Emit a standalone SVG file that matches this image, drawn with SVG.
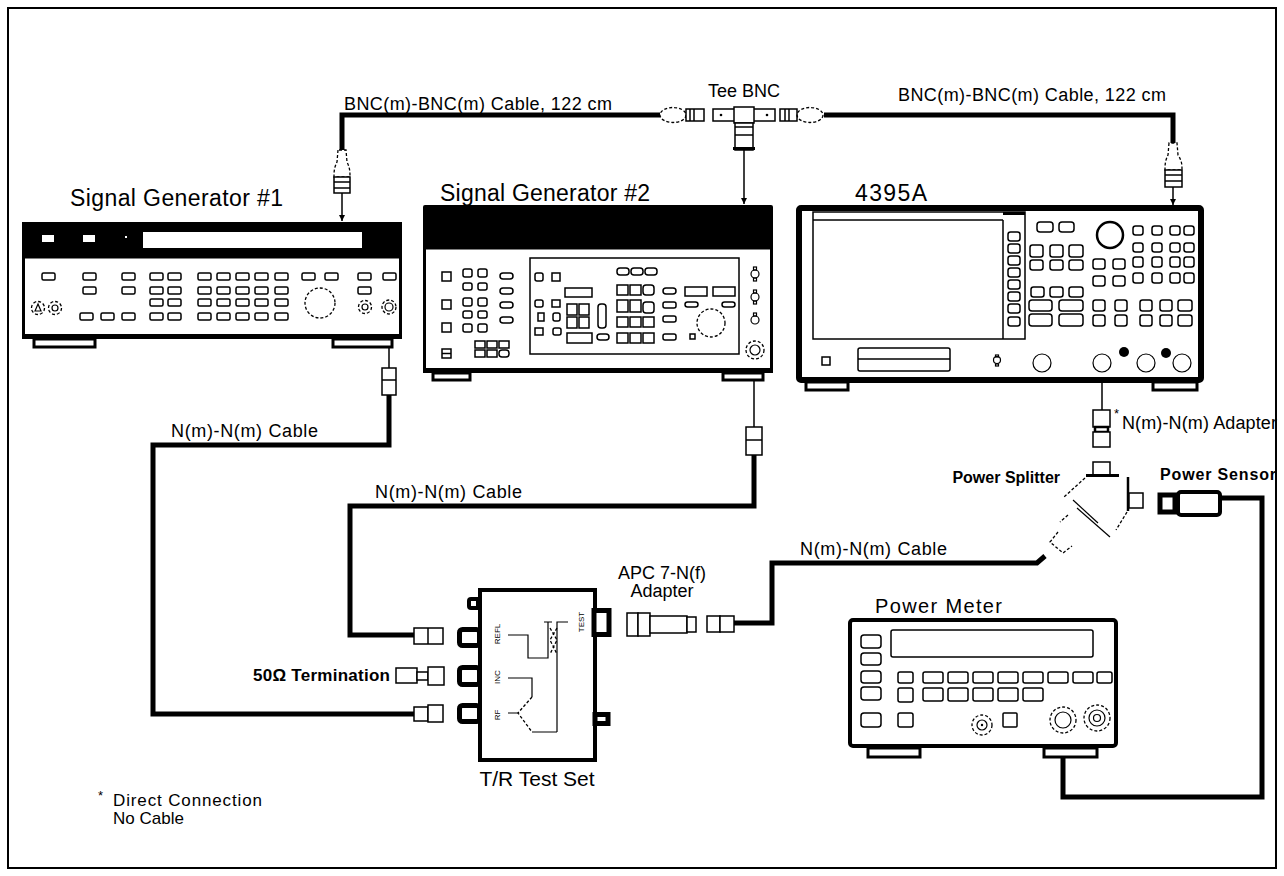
<svg xmlns="http://www.w3.org/2000/svg" width="1284" height="876" viewBox="0 0 1284 876">
<style>
text{font-family:"Liberation Sans",Arial,Helvetica,sans-serif;fill:#000}
.cab{stroke:#000;stroke-width:5;fill:none;stroke-linejoin:miter}
.ln{stroke:#000;stroke-width:1.5;fill:none}
.tl{stroke:#000;stroke-width:1.2;fill:none}
.b{fill:#fff;stroke:#000;stroke-width:1.5}
.d{fill:none;stroke:#000;stroke-width:1.3;stroke-dasharray:3 2}
.blk{fill:#000}
.ft{fill:#fff;stroke:#000;stroke-width:3}
.lbl{font-size:18px}
.big{font-size:23px}
.port{fill:#fff;stroke:#000;stroke-width:5}
</style>
<defs>
<marker id="ah" viewBox="0 0 10 10" refX="10" refY="5" markerUnits="userSpaceOnUse" markerWidth="6" markerHeight="8" orient="auto"><path d="M0,0 L10,5 L0,10 z"/></marker>
</defs>
<rect x="0" y="0" width="1284" height="876" fill="#fff"/>
<rect x="8" y="8" width="1268" height="860" fill="none" stroke="#000" stroke-width="2"/>

<g id="connectors">
<path class="cab" d="M342,150 V115 H660"/>
<path class="cab" d="M824,115 H1173 V143"/>
<path class="cab" d="M389,395 V445 H153 V714 H414"/>
<path class="cab" d="M754,455 V506 H350 V635 H414"/>
<path class="cab" d="M734,623 H772 V563 H1037 L1045,556"/>
<path class="cab" d="M1220,498 H1262 V797 H1063 V722"/>
<line class="ln" x1="342" y1="193" x2="342" y2="221" marker-end="url(#ah)"/>
<line class="ln" x1="744" y1="150" x2="744" y2="204" marker-end="url(#ah)"/>
<line class="ln" x1="1173" y1="187" x2="1173" y2="205" marker-end="url(#ah)"/>
<line class="ln" x1="389" y1="368" x2="389" y2="309" marker-end="url(#ah)"/>
<line class="ln" x1="754" y1="427" x2="754" y2="352" marker-end="url(#ah)"/>
<line class="ln" x1="1102" y1="410" x2="1102" y2="365" marker-end="url(#ah)"/>
</g>

<g id="bnc-cable-left">
<path class="d" d="M338,150 L337,162 C334,168 334,172 334,177 H350 C350,172 350,168 347,162 L346,150 Z"/>
<rect class="b" x="334" y="177" width="16" height="16"/>
<line class="ln" x1="334" y1="182" x2="350" y2="182"/>
<line class="ln" x1="334" y1="188" x2="350" y2="188"/>
<text class="lbl" x="344" y="110" textLength="268">BNC(m)-BNC(m) Cable, 122 cm</text>
<ellipse class="d" cx="673" cy="115" rx="13" ry="7.5"/>
<rect class="b" x="686" y="109" width="18" height="12"/>
<line class="ln" x1="690" y1="109" x2="690" y2="121"/>
<line class="ln" x1="694" y1="109" x2="694" y2="121"/>
</g>

<g id="tee-bnc">
<text class="lbl" x="744" y="97" text-anchor="middle">Tee BNC</text>
<rect class="b" x="713" y="109" width="62" height="12"/>
<rect class="b" x="734" y="107" width="20" height="16"/>
<circle cx="721" cy="115" r="1.3"/>
<circle cx="767" cy="115" r="1.3"/>
<rect class="b" x="735" y="123" width="18" height="27"/>
<line class="ln" x1="735" y1="127" x2="753" y2="127"/>
<line class="ln" x1="735" y1="135" x2="753" y2="135"/>
<rect class="blk" x="733" y="147" width="22" height="3"/>
</g>

<g id="bnc-cable-right">
<rect class="b" x="780" y="109" width="17" height="12"/>
<line class="ln" x1="785" y1="109" x2="785" y2="121"/>
<line class="ln" x1="789" y1="109" x2="789" y2="121"/>
<ellipse class="d" cx="810" cy="115" rx="13" ry="7.5"/>
<text class="lbl" x="898" y="101" textLength="268">BNC(m)-BNC(m) Cable, 122 cm</text>
<path class="d" d="M1169,143 L1168,155 C1165,161 1165,165 1165,170 H1182 C1182,165 1182,161 1178,155 L1177,143 Z"/>
<rect class="b" x="1165" y="170" width="17" height="17"/>
<line class="ln" x1="1165" y1="175" x2="1182" y2="175"/>
<line class="ln" x1="1165" y1="181" x2="1182" y2="181"/>
</g>

<g id="sig-gen-1">
<text class="big" x="70" y="206" textLength="213">Signal Generator #1</text>
<rect x="22" y="222" width="380" height="36" class="blk"/>
<rect x="42" y="235" width="12" height="7" fill="#fff"/>
<rect x="83" y="235" width="12" height="7" fill="#fff"/>
<rect x="125" y="236" width="2" height="2" fill="#fff"/>
<rect x="143" y="232" width="219" height="16" fill="#fff"/>
<rect x="23.5" y="257" width="377" height="80" fill="#fff" stroke="#000" stroke-width="3"/>
<rect x="22" y="334" width="380" height="5" class="blk"/>
<rect class="ft" x="34" y="339" width="61" height="8" stroke-width="2"/>
<rect class="ft" x="333" y="339" width="59" height="8"/>
<g class="b">
<rect x="42" y="273" width="13" height="7" rx="1.5"/><rect x="83" y="273" width="13" height="7" rx="1.5"/><rect x="122" y="273" width="13" height="7" rx="1.5"/><rect x="150" y="273" width="13" height="7" rx="1.5"/><rect x="168" y="273" width="13" height="7" rx="1.5"/><rect x="198" y="273" width="13" height="7" rx="1.5"/><rect x="217" y="273" width="13" height="7" rx="1.5"/><rect x="236" y="273" width="13" height="7" rx="1.5"/><rect x="255" y="273" width="13" height="7" rx="1.5"/><rect x="275" y="273" width="13" height="7" rx="1.5"/><rect x="302" y="273" width="13" height="7" rx="1.5"/><rect x="325" y="273" width="13" height="7" rx="1.5"/><rect x="358" y="273" width="13" height="7" rx="1.5"/><rect x="383" y="273" width="13" height="7" rx="1.5"/>
<rect x="83" y="287" width="13" height="7" rx="1.5"/><rect x="122" y="287" width="13" height="7" rx="1.5"/><rect x="150" y="287" width="13" height="7" rx="1.5"/><rect x="168" y="287" width="13" height="7" rx="1.5"/><rect x="198" y="287" width="13" height="7" rx="1.5"/><rect x="217" y="287" width="13" height="7" rx="1.5"/><rect x="236" y="287" width="13" height="7" rx="1.5"/><rect x="255" y="287" width="13" height="7" rx="1.5"/><rect x="275" y="287" width="13" height="7" rx="1.5"/><rect x="358" y="287" width="13" height="7" rx="1.5"/>
<rect x="150" y="299" width="13" height="7" rx="1.5"/><rect x="168" y="299" width="13" height="7" rx="1.5"/><rect x="198" y="299" width="13" height="7" rx="1.5"/><rect x="217" y="299" width="13" height="7" rx="1.5"/><rect x="236" y="299" width="13" height="7" rx="1.5"/><rect x="255" y="299" width="13" height="7" rx="1.5"/><rect x="275" y="299" width="13" height="7" rx="1.5"/>
<rect x="80" y="313" width="13" height="7" rx="1.5"/><rect x="101" y="313" width="13" height="7" rx="1.5"/><rect x="122" y="313" width="13" height="7" rx="1.5"/><rect x="150" y="313" width="13" height="7" rx="1.5"/><rect x="168" y="313" width="13" height="7" rx="1.5"/><rect x="198" y="313" width="13" height="7" rx="1.5"/><rect x="217" y="313" width="13" height="7" rx="1.5"/><rect x="236" y="313" width="13" height="7" rx="1.5"/><rect x="255" y="313" width="13" height="7" rx="1.5"/><rect x="275" y="313" width="13" height="7" rx="1.5"/>
</g>
<circle class="d" cx="320" cy="303" r="15"/>
<circle class="d" cx="38" cy="308" r="6.5"/><path class="tl" d="M35,311 L38,304 L41,311 Z"/>
<circle class="d" cx="55" cy="308" r="6.5"/><circle class="tl" cx="55" cy="308" r="3"/>
<circle class="d" cx="365" cy="307" r="6.5"/><circle class="tl" cx="365" cy="307" r="3"/>
<circle class="d" cx="389" cy="307" r="7"/><circle class="tl" cx="389" cy="307" r="4"/>
</g>

<g id="sig-gen-2">
<text class="big" x="440" y="201" textLength="210">Signal Generator #2</text>
<rect x="423" y="205" width="350" height="44" rx="2" class="blk"/>
<rect x="424.5" y="248" width="347" height="123" fill="#fff" stroke="#000" stroke-width="3"/>
<rect x="423" y="368" width="350" height="5" class="blk"/>
<rect class="ft" x="433" y="373" width="37" height="7"/>
<rect class="ft" x="723" y="373" width="40" height="7"/>
<g class="b">
<rect x="442" y="272" width="9" height="9"/><rect x="442" y="300" width="9" height="9"/><rect x="442" y="323" width="9" height="9"/><rect x="442" y="349" width="9" height="9"/>
<rect x="463" y="269" width="9" height="8" rx="2"/><rect x="478" y="269" width="9" height="8" rx="2"/>
<rect x="463" y="283" width="9" height="7" rx="2"/><rect x="478" y="283" width="9" height="7" rx="2"/>
<rect x="463" y="298" width="9" height="8" rx="2"/><rect x="478" y="298" width="9" height="8" rx="2"/>
<rect x="463" y="311" width="9" height="7" rx="2"/><rect x="478" y="311" width="9" height="7" rx="2"/>
<rect x="463" y="324" width="9" height="8" rx="2"/><rect x="478" y="324" width="9" height="8" rx="2"/>
<rect x="500" y="273" width="13" height="6" rx="3"/><rect x="500" y="288" width="13" height="6" rx="3"/><rect x="500" y="302" width="13" height="6" rx="3"/><rect x="500" y="317" width="13" height="6" rx="3"/>
<rect x="475" y="341" width="10" height="7"/><rect x="487" y="341" width="10" height="7"/><rect x="499" y="341" width="10" height="7"/>
<rect x="475" y="350" width="10" height="7"/><rect x="487" y="350" width="10" height="7"/><rect x="499" y="350" width="10" height="7" rx="3"/>
<rect x="530" y="258" width="209" height="96"/>
<rect x="535" y="273" width="8" height="8" rx="2"/><rect x="552" y="273" width="8" height="8"/>
<rect x="535" y="300" width="8" height="7" rx="2"/><rect x="552" y="300" width="8" height="7"/>
<rect x="538" y="313" width="6" height="8"/><rect x="553" y="313" width="7" height="8" rx="2"/>
<rect x="535" y="328" width="8" height="7"/><rect x="553" y="328" width="8" height="7" rx="2"/>
<rect x="565" y="288" width="27" height="9"/>
<rect x="567" y="304" width="10" height="11"/><rect x="579" y="304" width="10" height="11"/><rect x="567" y="317" width="10" height="11"/><rect x="579" y="317" width="10" height="11"/>
<rect x="598" y="304" width="8" height="24" rx="3"/>
<rect x="567" y="333" width="25" height="10"/><rect x="597" y="334" width="12" height="6" rx="3"/>
<rect x="617" y="268" width="12" height="7" rx="3"/><rect x="631" y="268" width="12" height="7" rx="3"/><rect x="645" y="268" width="12" height="7" rx="3"/>
<rect x="617" y="285" width="11" height="10"/><rect x="630" y="285" width="11" height="10"/><rect x="643" y="285" width="11" height="10" rx="3"/>
<rect x="617" y="300" width="11" height="12"/><rect x="630" y="300" width="11" height="12"/><rect x="643" y="302" width="11" height="11" rx="3"/>
<rect x="617" y="317" width="11" height="10"/><rect x="630" y="317" width="11" height="10"/><rect x="643" y="317" width="11" height="10"/>
<rect x="617" y="333" width="11" height="10"/><rect x="630" y="333" width="11" height="10"/><rect x="643" y="333" width="11" height="10"/>
<rect x="663" y="288" width="13" height="6" rx="3"/><rect x="663" y="302" width="13" height="6" rx="2"/><rect x="663" y="316" width="13" height="6" rx="2"/><rect x="663" y="334" width="13" height="6" rx="2"/>
<rect x="685" y="287" width="22" height="9"/><rect x="713" y="287" width="22" height="9"/>
<rect x="685" y="302" width="13" height="5" rx="2.5"/><rect x="722" y="302" width="13" height="5" rx="2.5"/>
<rect x="690" y="334" width="5" height="5"/>
</g>
<line class="ln" x1="442" y1="353.5" x2="451" y2="353.5"/>
<circle class="d" cx="711" cy="323" r="14"/>
<g class="tl">
<circle cx="755" cy="274" r="4"/><rect x="753.5" y="267" width="3" height="3"/><rect x="753.5" y="278" width="3" height="3"/>
<circle cx="755" cy="297" r="4"/><rect x="753.5" y="290" width="3" height="3"/><rect x="753.5" y="301" width="3" height="3"/>
<circle cx="755" cy="320" r="4"/><rect x="753.5" y="313" width="3" height="3"/>
</g>
<circle class="d" cx="755" cy="350" r="9"/><circle class="tl" cx="755" cy="350" r="5"/>
</g>

<g id="analyzer-4395A">
<text class="big" x="855" y="201" textLength="72">4395A</text>
<rect x="799" y="208" width="402" height="172" rx="2" fill="#fff" stroke="#000" stroke-width="6"/>
<rect class="ft" x="806" y="382" width="42" height="8"/>
<rect class="ft" x="1153" y="382" width="44" height="8"/>
<rect x="813" y="212" width="212" height="127" fill="#fff" stroke="#000" stroke-width="1.5"/>
<line class="ln" x1="813" y1="220" x2="1003" y2="220"/>
<rect x="1003" y="212" width="22" height="3" class="blk"/>
<line class="ln" x1="1003" y1="220" x2="1003" y2="339"/>
<g class="b">
<rect x="1008" y="232" width="12" height="9" rx="2.5"/><rect x="1008" y="244" width="12" height="9" rx="2.5"/><rect x="1008" y="256" width="12" height="9" rx="2.5"/><rect x="1008" y="268" width="12" height="9" rx="2.5"/><rect x="1008" y="280" width="12" height="9" rx="2.5"/><rect x="1008" y="292" width="12" height="9" rx="2.5"/><rect x="1008" y="304" width="12" height="9" rx="2.5"/><rect x="1008" y="317" width="12" height="9" rx="2.5"/>
<rect x="1037" y="222" width="16" height="10" rx="3"/><rect x="1059" y="222" width="15" height="10" rx="3"/>
<rect x="1030" y="245" width="13" height="12" rx="2.5"/><rect x="1050" y="245" width="13" height="12" rx="2.5"/><rect x="1069" y="245" width="14" height="12" rx="2.5"/>
<rect x="1030" y="260" width="13" height="10" rx="2.5"/><rect x="1050" y="260" width="13" height="10" rx="2.5"/><rect x="1069" y="260" width="14" height="10" rx="2.5"/>
<rect x="1031" y="287" width="13" height="10" rx="2.5"/><rect x="1050" y="287" width="13" height="10" rx="2.5"/><rect x="1069" y="287" width="14" height="10" rx="2.5"/>
<rect x="1029" y="300" width="23" height="11" rx="3"/><rect x="1059" y="300" width="24" height="11" rx="3"/>
<rect x="1029" y="314" width="23" height="12" rx="3"/><rect x="1059" y="314" width="24" height="12" rx="3"/>
<rect x="1133" y="226" width="10" height="9" rx="2.5"/><rect x="1152" y="226" width="10" height="9" rx="2.5"/><rect x="1170" y="226" width="10" height="9" rx="2.5"/><rect x="1184" y="226" width="10" height="9" rx="2.5"/>
<rect x="1133" y="243" width="10" height="9" rx="2.5"/><rect x="1152" y="243" width="10" height="9" rx="2.5"/><rect x="1170" y="243" width="10" height="9" rx="2.5"/><rect x="1184" y="243" width="10" height="9" rx="2.5"/>
<rect x="1133" y="257" width="10" height="10" rx="2.5"/><rect x="1152" y="257" width="10" height="10" rx="2.5"/><rect x="1170" y="257" width="10" height="10" rx="2.5"/><rect x="1184" y="257" width="10" height="10" rx="2.5"/>
<rect x="1133" y="273" width="10" height="10" rx="2.5"/><rect x="1152" y="273" width="10" height="10" rx="2.5"/><rect x="1170" y="273" width="10" height="10" rx="2.5"/><rect x="1184" y="273" width="10" height="10" rx="2.5"/>
<rect x="1093" y="259" width="12" height="10" rx="2.5"/><rect x="1113" y="259" width="12" height="10" rx="2.5"/>
<rect x="1093" y="276" width="12" height="10" rx="2.5"/><rect x="1113" y="276" width="12" height="10" rx="2.5"/>
<rect x="1093" y="300" width="12" height="11" rx="2.5"/><rect x="1115" y="300" width="12" height="11" rx="2.5"/><rect x="1140" y="300" width="12" height="11" rx="2.5"/><rect x="1160" y="300" width="12" height="11" rx="2.5"/><rect x="1178" y="300" width="14" height="11" rx="2.5"/>
<rect x="1093" y="315" width="12" height="11" rx="2.5"/><rect x="1115" y="315" width="12" height="11" rx="2.5"/><rect x="1140" y="315" width="12" height="11" rx="2.5"/><rect x="1160" y="315" width="12" height="11" rx="2.5"/><rect x="1178" y="315" width="14" height="11" rx="2.5"/>
<rect x="822" y="357" width="8" height="8"/>
<rect x="858" y="348" width="92" height="23" rx="2"/>
</g>
<circle cx="1110" cy="235" r="13" fill="none" stroke="#000" stroke-width="2.5"/>
<line class="ln" x1="858" y1="359" x2="950" y2="359"/>
<circle class="tl" cx="997" cy="360" r="3.5"/><rect class="tl" x="995.5" y="355" width="3" height="2"/><rect class="tl" x="995.5" y="364" width="3" height="2"/>
<circle class="tl" cx="1042" cy="363" r="9"/>
<circle class="tl" cx="1102" cy="363" r="9"/>
<circle class="tl" cx="1146" cy="363" r="9"/>
<circle class="tl" cx="1182" cy="363" r="9"/>
<circle class="blk" cx="1124" cy="352" r="5"/>
<circle class="blk" cx="1166" cy="353" r="5"/>
</g>

<g id="adapter-n">
<text x="1114" y="418" font-size="13">*</text>
<rect class="b" x="1093" y="410" width="17" height="17"/>
<rect x="1095" y="427" width="13" height="5" fill="#fff" stroke="#000" stroke-width="2.5"/>
<rect class="b" x="1093" y="432" width="17" height="15"/>
<text class="lbl" x="1122" y="429" textLength="155">N(m)-N(m) Adapter</text>
</g>

<g id="power-splitter">
<text x="1060" y="483" font-size="16" font-weight="bold" text-anchor="end">Power Splitter</text>
<rect class="b" x="1093" y="462" width="17" height="13"/>
<rect x="1086" y="474" width="33" height="3" class="blk"/>
<line x1="1128" y1="477" x2="1128" y2="511" stroke="#000" stroke-width="2.5"/>
<rect class="b" x="1129" y="493" width="14" height="15"/>
<path class="d" d="M1085,478 L1064,497"/>
<path class="d" d="M1127,512 L1116,530"/>
<line class="tl" x1="1073" y1="500" x2="1098" y2="523"/>
<line class="tl" x1="1077" y1="508" x2="1110" y2="537"/>
<path class="d" d="M1068,515 L1060,522"/>
<path class="d" d="M1058,532 L1050,542 L1063,553 L1072,546"/>
</g>

<g id="power-sensor">
<text x="1160" y="480" font-size="16" font-weight="bold" textLength="116">Power Sensor</text>
<rect x="1160" y="495" width="15" height="17" fill="#fff" stroke="#000" stroke-width="5"/>
<rect x="1178" y="492" width="42" height="23" rx="3" fill="#fff" stroke="#000" stroke-width="4"/>
</g>

<g id="n-cable-labels">
<text class="lbl" x="171" y="437" textLength="147">N(m)-N(m) Cable</text>
<text class="lbl" x="375" y="498" textLength="147">N(m)-N(m) Cable</text>
<text class="lbl" x="800" y="555" textLength="147">N(m)-N(m) Cable</text>
<rect class="b" x="382" y="368" width="14" height="27"/>
<line class="ln" x1="382" y1="380" x2="396" y2="380"/>
<rect class="b" x="746" y="427" width="16" height="28"/>
<line class="ln" x1="746" y1="440" x2="762" y2="440"/>
</g>

<g id="tr-test-set">
<rect x="480" y="590" width="115" height="170" fill="#fff" stroke="#000" stroke-width="4"/>
<rect x="467" y="597" width="15" height="13" rx="4" class="blk"/>
<rect x="471" y="601" width="5" height="5" fill="#fff"/>
<rect class="port" x="459.5" y="629.5" width="20" height="16" rx="3"/>
<rect class="port" x="459.5" y="667.5" width="20" height="17" rx="3"/>
<rect class="port" x="459.5" y="705.5" width="20" height="16" rx="3"/>
<rect class="port" x="594" y="610.5" width="15" height="24"/>
<rect class="port" x="595" y="714.5" width="13" height="9"/>
<g font-size="8">
<text transform="translate(500,634) rotate(-90)" text-anchor="middle">REFL</text>
<text transform="translate(500,677) rotate(-90)" text-anchor="middle">INC</text>
<text transform="translate(500,715) rotate(-90)" text-anchor="middle">RF</text>
<text transform="translate(584,622) rotate(-90)" text-anchor="middle">TEST</text>
</g>
<path class="tl" d="M508,635 H528 V658 H548 V622 M544,622 H552 M557,732 V622 H568 M508,678 H532 V697 M508,713 H518 M532,732 H557"/>
<path class="d" d="M550,628 L557,640 L550,654 M557,628 L550,640 L557,654 M532,697 L518,713 L532,732"/>
<text x="537" y="786" font-size="21" text-anchor="middle">T/R Test Set</text>
</g>

<g id="tr-cables">
<rect class="b" x="414" y="628" width="29" height="16"/>
<line class="ln" x1="428" y1="628" x2="428" y2="644"/>
<rect class="b" x="414" y="707" width="14" height="14"/>
<rect class="b" x="428" y="705" width="15" height="17"/>
</g>

<g id="termination">
<text x="253" y="681" font-size="17" font-weight="bold" textLength="137">50Ω Termination</text>
<rect class="b" x="396" y="668" width="21" height="15"/>
<rect class="b" x="417" y="672" width="11" height="8"/>
<rect class="b" x="428" y="667" width="16" height="18"/>
</g>

<g id="apc-adapter">
<text class="lbl" x="662" y="579" text-anchor="middle">APC 7-N(f)</text>
<text class="lbl" x="662" y="597" text-anchor="middle">Adapter</text>
<rect class="b" x="627" y="613" width="11" height="23"/>
<rect class="b" x="638" y="613" width="12" height="23"/>
<rect class="b" x="650" y="616" width="37" height="17"/>
<rect class="b" x="687" y="617" width="9" height="15"/>
<rect class="b" x="707" y="616" width="13" height="16"/>
<rect class="b" x="720" y="616" width="14" height="16"/>
</g>

<g id="power-meter">
<text x="875" y="613" font-size="20" textLength="127">Power Meter</text>
<rect x="850" y="620" width="266" height="126" rx="3" fill="#fff" stroke="#000" stroke-width="4"/>
<rect class="ft" x="868" y="748" width="52" height="9"/>
<rect class="ft" x="1044" y="748" width="53" height="9"/>
<g class="b">
<rect x="891" y="630" width="202" height="27" rx="2"/>
<rect x="861" y="635" width="20" height="13" rx="3"/><rect x="861" y="653" width="20" height="12" rx="3"/><rect x="861" y="671" width="20" height="12" rx="3"/><rect x="861" y="687" width="20" height="13" rx="3"/><rect x="861" y="713" width="20" height="14" rx="3"/>
<rect x="898" y="672" width="15" height="11" rx="2"/><rect x="898" y="688" width="15" height="14" rx="2"/><rect x="898" y="713" width="15" height="14" rx="2"/>
<rect x="923" y="672" width="20" height="11" rx="2"/><rect x="948" y="672" width="20" height="11" rx="2"/><rect x="973" y="672" width="20" height="11" rx="2"/><rect x="998" y="672" width="20" height="11" rx="2"/><rect x="1023" y="672" width="20" height="11" rx="2"/><rect x="1048" y="672" width="20" height="11" rx="2"/><rect x="1073" y="672" width="20" height="11" rx="2"/><rect x="1097" y="672" width="15" height="11" rx="2"/>
<rect x="923" y="688" width="20" height="13" rx="2"/><rect x="948" y="688" width="20" height="13" rx="2"/><rect x="973" y="688" width="20" height="13" rx="2"/><rect x="998" y="688" width="20" height="13" rx="2"/><rect x="1023" y="688" width="20" height="13" rx="2"/>
<rect x="1003" y="713" width="14" height="14" rx="1"/>
</g>
<circle class="d" cx="982" cy="725" r="10"/><circle class="tl" cx="982" cy="725" r="5"/><circle class="blk" cx="982" cy="725" r="1.2"/>
<circle class="d" cx="1063" cy="720" r="13"/><circle class="tl" cx="1063" cy="720" r="8"/>
<circle class="d" cx="1097" cy="718" r="13"/><circle class="tl" cx="1097" cy="718" r="8"/><circle class="tl" cx="1097" cy="718" r="3.5"/>
</g>

<g id="note">
<text x="98" y="800" font-size="13">*</text>
<text x="113" y="806" font-size="17" textLength="149">Direct Connection</text>
<text x="113" y="824" font-size="17">No Cable</text>
</g>
</svg>
